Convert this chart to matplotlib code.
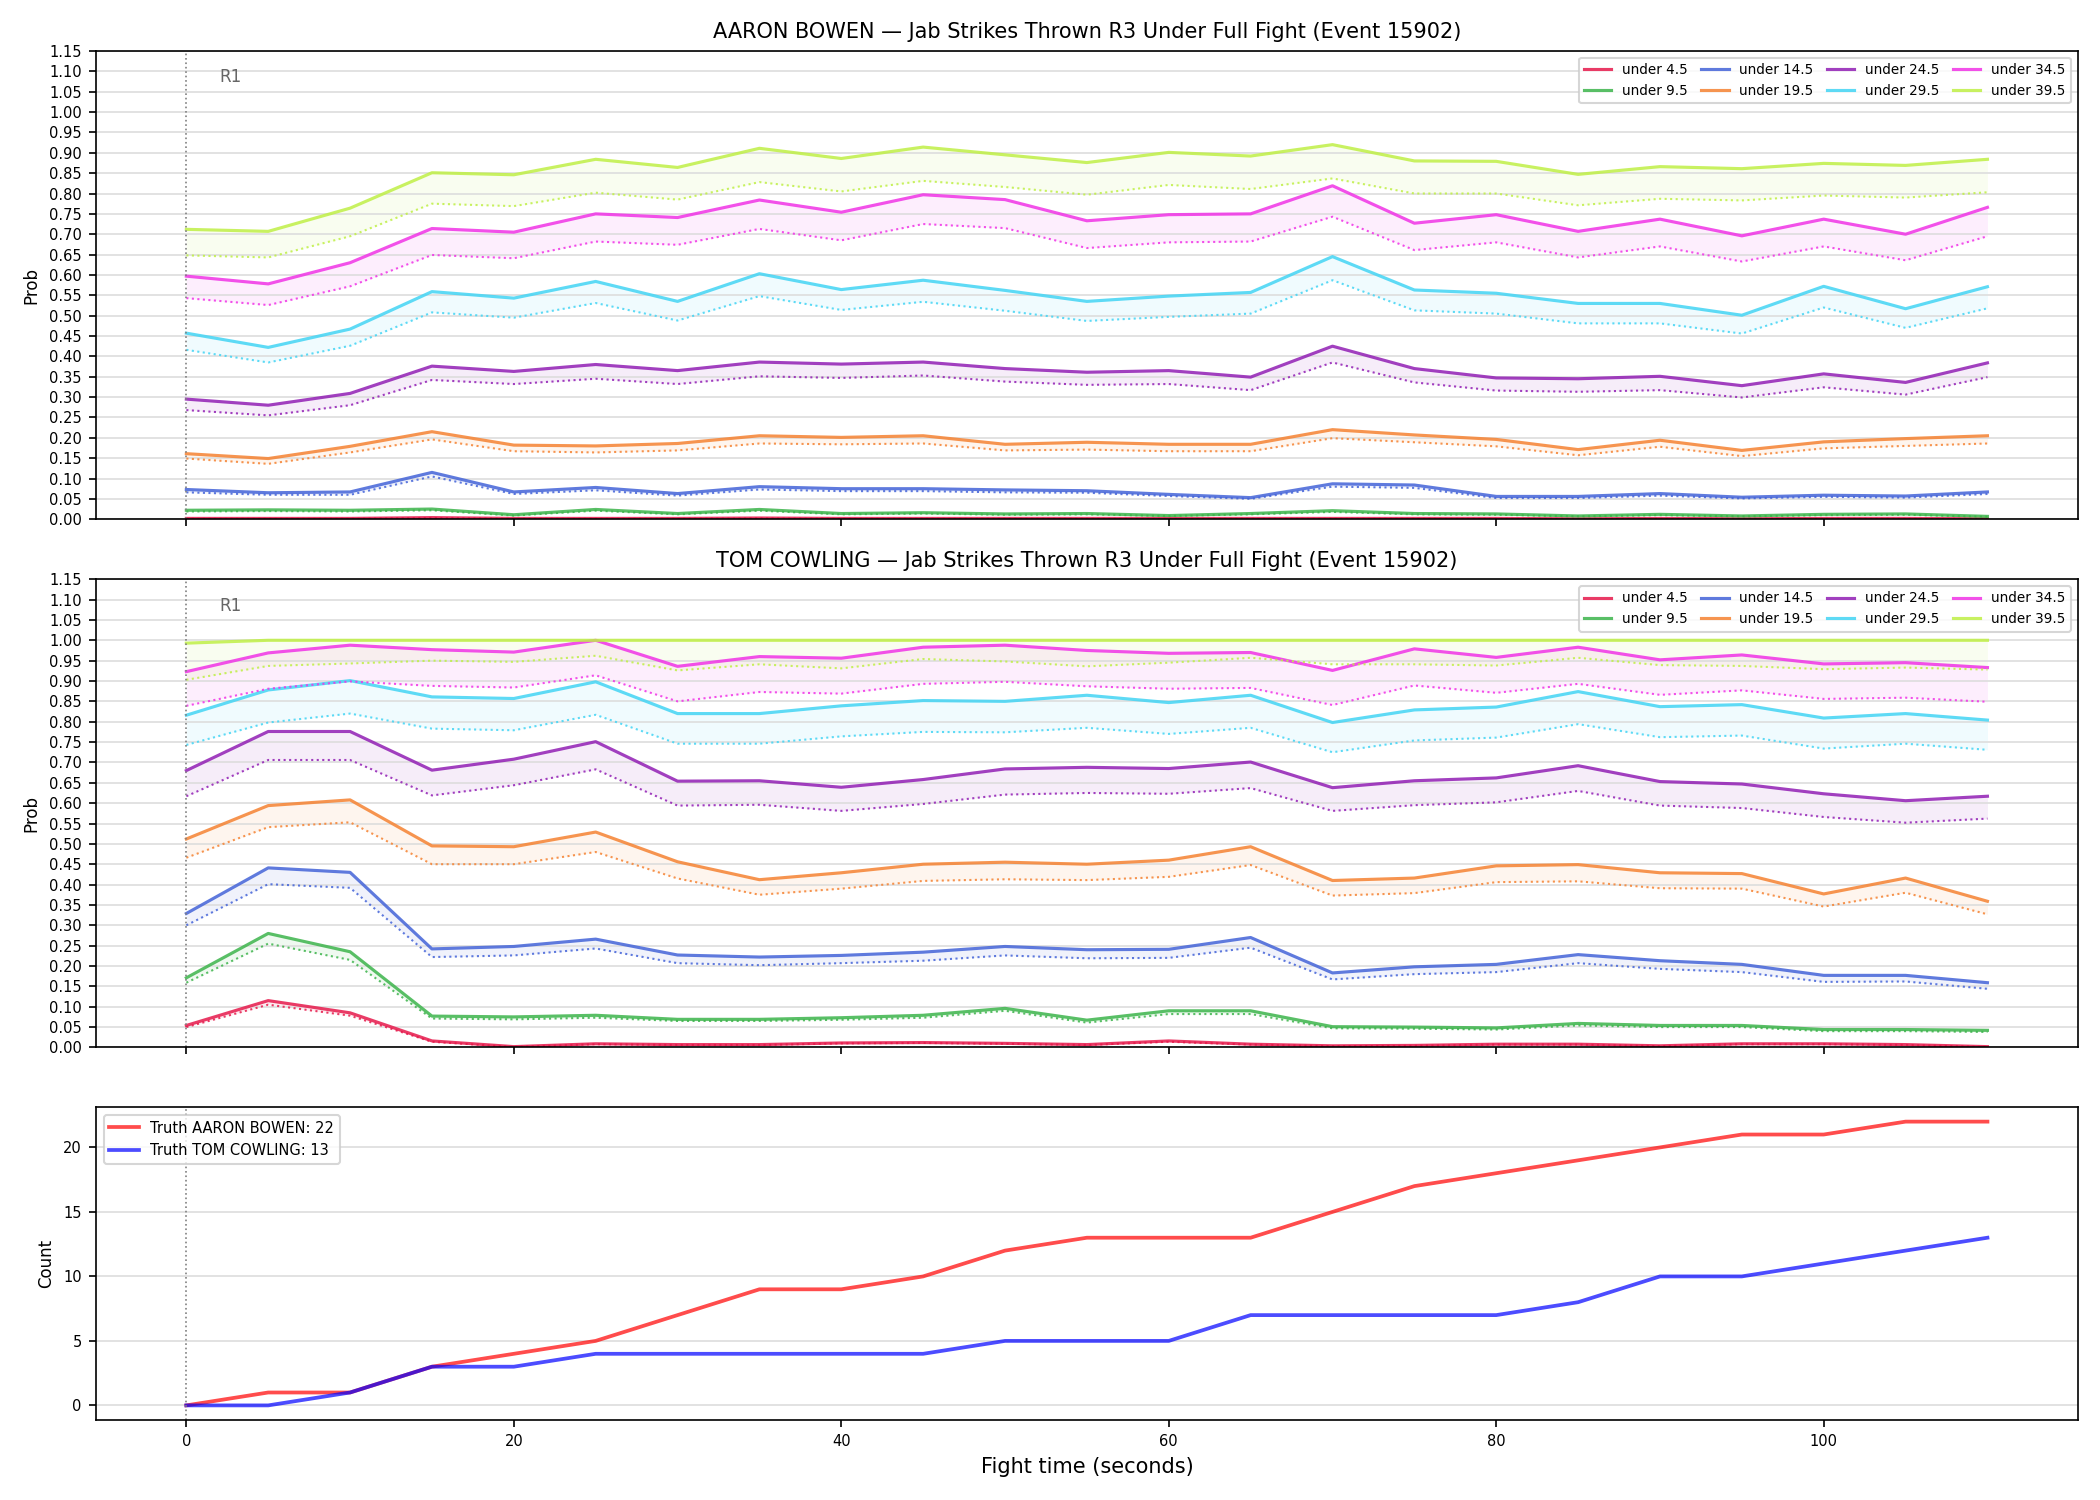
import numpy as np
import matplotlib
matplotlib.use("Agg")
import matplotlib.pyplot as plt

t = np.arange(0, 111, 5)
labels = ["under 4.5", "under 9.5", "under 14.5", "under 19.5",
          "under 24.5", "under 29.5", "under 34.5", "under 39.5"]
colors = ["#e6194b", "#3cb44b", "#4363d8", "#f58231",
          "#911eb4", "#42d4f4", "#f032e6", "#bfef45"]

# AARON BOWEN - solid (upper) and dotted (lower) curves
bowen_hi = [
    [0.002, 0.002, 0.002, 0.004, 0.002, 0.002, 0.002, 0.003, 0.002, 0.002, 0.002, 0.002,
     0.002, 0.002, 0.002, 0.002, 0.002, 0.001, 0.002, 0.001, 0.002, 0.002, 0.001],
    [0.022, 0.023, 0.022, 0.025, 0.011, 0.024, 0.014, 0.024, 0.014, 0.016, 0.013, 0.014,
     0.009, 0.014, 0.021, 0.014, 0.013, 0.008, 0.012, 0.008, 0.012, 0.013, 0.007],
    [0.073, 0.065, 0.067, 0.115, 0.067, 0.078, 0.063, 0.080, 0.075, 0.075, 0.072, 0.070,
     0.061, 0.053, 0.087, 0.084, 0.056, 0.056, 0.063, 0.054, 0.059, 0.057, 0.067],
    [0.161, 0.149, 0.179, 0.215, 0.182, 0.180, 0.186, 0.205, 0.201, 0.205, 0.184, 0.189,
     0.184, 0.184, 0.220, 0.207, 0.196, 0.171, 0.194, 0.169, 0.190, 0.198, 0.205],
    [0.295, 0.280, 0.309, 0.376, 0.363, 0.380, 0.365, 0.386, 0.381, 0.386, 0.370, 0.361,
     0.365, 0.349, 0.425, 0.370, 0.347, 0.345, 0.351, 0.328, 0.357, 0.336, 0.384],
    [0.457, 0.422, 0.467, 0.559, 0.543, 0.584, 0.535, 0.603, 0.564, 0.587, 0.562, 0.535,
     0.548, 0.557, 0.645, 0.563, 0.555, 0.530, 0.530, 0.501, 0.572, 0.517, 0.571],
    [0.597, 0.578, 0.630, 0.714, 0.705, 0.750, 0.741, 0.784, 0.754, 0.797, 0.785, 0.733,
     0.748, 0.750, 0.819, 0.727, 0.748, 0.707, 0.737, 0.696, 0.737, 0.700, 0.766],
    [0.712, 0.707, 0.764, 0.851, 0.846, 0.884, 0.864, 0.911, 0.886, 0.914, 0.895, 0.876,
     0.901, 0.892, 0.920, 0.880, 0.879, 0.847, 0.866, 0.861, 0.874, 0.869, 0.884],
]
bowen_lo = [
    [0.001, 0.001, 0.001, 0.003, 0.001, 0.001, 0.001, 0.002, 0.001, 0.001, 0.001, 0.001,
     0.001, 0.001, 0.001, 0.001, 0.001, 0.001, 0.001, 0.001, 0.001, 0.001, 0.001],
    [0.019, 0.020, 0.019, 0.022, 0.009, 0.021, 0.012, 0.021, 0.012, 0.014, 0.011, 0.012,
     0.008, 0.012, 0.018, 0.012, 0.011, 0.007, 0.010, 0.007, 0.010, 0.011, 0.006],
    [0.066, 0.060, 0.060, 0.105, 0.062, 0.071, 0.058, 0.073, 0.069, 0.069, 0.066, 0.065,
     0.057, 0.050, 0.080, 0.077, 0.052, 0.052, 0.058, 0.051, 0.055, 0.053, 0.062],
    [0.149, 0.136, 0.164, 0.196, 0.167, 0.164, 0.169, 0.186, 0.184, 0.186, 0.169, 0.171,
     0.167, 0.167, 0.199, 0.189, 0.179, 0.157, 0.178, 0.155, 0.174, 0.180, 0.186],
    [0.268, 0.255, 0.280, 0.342, 0.332, 0.345, 0.332, 0.351, 0.347, 0.353, 0.338, 0.330,
     0.332, 0.317, 0.385, 0.336, 0.316, 0.313, 0.317, 0.299, 0.324, 0.306, 0.349],
    [0.416, 0.385, 0.426, 0.508, 0.495, 0.531, 0.488, 0.548, 0.514, 0.534, 0.512, 0.487,
     0.497, 0.505, 0.587, 0.513, 0.505, 0.481, 0.481, 0.456, 0.520, 0.470, 0.518],
    [0.543, 0.526, 0.572, 0.649, 0.641, 0.682, 0.674, 0.713, 0.685, 0.725, 0.715, 0.666,
     0.680, 0.682, 0.743, 0.661, 0.680, 0.643, 0.670, 0.633, 0.670, 0.636, 0.695],
    [0.648, 0.643, 0.695, 0.775, 0.769, 0.802, 0.785, 0.828, 0.805, 0.831, 0.816, 0.797,
     0.821, 0.811, 0.837, 0.800, 0.800, 0.771, 0.787, 0.783, 0.795, 0.790, 0.803],
]

# TOM COWLING
cowling_hi = [
    [0.054, 0.115, 0.085, 0.016, 0.002, 0.009, 0.007, 0.007, 0.011, 0.012, 0.010, 0.007,
     0.016, 0.008, 0.004, 0.005, 0.008, 0.008, 0.004, 0.009, 0.009, 0.007, 0.002],
    [0.171, 0.280, 0.235, 0.077, 0.075, 0.079, 0.069, 0.069, 0.073, 0.079, 0.096, 0.067,
     0.090, 0.090, 0.051, 0.050, 0.048, 0.059, 0.054, 0.054, 0.044, 0.044, 0.042],
    [0.329, 0.441, 0.430, 0.242, 0.248, 0.266, 0.227, 0.222, 0.226, 0.234, 0.248, 0.240,
     0.241, 0.270, 0.183, 0.198, 0.204, 0.228, 0.213, 0.204, 0.177, 0.177, 0.159],
    [0.512, 0.594, 0.608, 0.495, 0.493, 0.529, 0.456, 0.412, 0.429, 0.450, 0.455, 0.450,
     0.460, 0.493, 0.410, 0.416, 0.446, 0.449, 0.429, 0.427, 0.377, 0.416, 0.359],
    [0.680, 0.776, 0.776, 0.681, 0.708, 0.751, 0.654, 0.655, 0.639, 0.658, 0.684, 0.688,
     0.685, 0.701, 0.638, 0.655, 0.662, 0.692, 0.653, 0.647, 0.623, 0.606, 0.617],
    [0.816, 0.878, 0.901, 0.861, 0.857, 0.898, 0.820, 0.820, 0.839, 0.852, 0.850, 0.865,
     0.847, 0.865, 0.798, 0.829, 0.836, 0.874, 0.837, 0.842, 0.809, 0.820, 0.804],
    [0.923, 0.969, 0.988, 0.977, 0.971, 1.000, 0.936, 0.960, 0.956, 0.983, 0.988, 0.975,
     0.968, 0.970, 0.926, 0.979, 0.958, 0.983, 0.952, 0.964, 0.942, 0.945, 0.933],
    [0.993, 1.000, 1.000, 1.000, 1.000, 1.000, 1.000, 1.000, 1.000, 1.000, 1.000, 1.000,
     1.000, 1.000, 1.000, 1.000, 1.000, 1.000, 1.000, 1.000, 1.000, 1.000, 1.000],
]
cowling_lo = [
    [0.050, 0.105, 0.078, 0.014, 0.001, 0.008, 0.006, 0.006, 0.010, 0.011, 0.009, 0.006,
     0.014, 0.007, 0.003, 0.004, 0.007, 0.007, 0.003, 0.008, 0.008, 0.006, 0.001],
    [0.159, 0.255, 0.215, 0.071, 0.069, 0.073, 0.065, 0.065, 0.068, 0.073, 0.090, 0.061,
     0.082, 0.082, 0.047, 0.046, 0.044, 0.054, 0.050, 0.050, 0.040, 0.040, 0.038],
    [0.300, 0.401, 0.392, 0.222, 0.226, 0.243, 0.207, 0.202, 0.207, 0.213, 0.226, 0.219,
     0.220, 0.245, 0.167, 0.180, 0.185, 0.207, 0.193, 0.185, 0.161, 0.162, 0.144],
    [0.466, 0.541, 0.553, 0.450, 0.450, 0.480, 0.415, 0.375, 0.390, 0.409, 0.413, 0.411,
     0.419, 0.448, 0.373, 0.379, 0.406, 0.408, 0.391, 0.390, 0.346, 0.380, 0.327],
    [0.617, 0.706, 0.706, 0.619, 0.644, 0.683, 0.594, 0.596, 0.581, 0.598, 0.621, 0.625,
     0.623, 0.637, 0.581, 0.595, 0.602, 0.630, 0.594, 0.588, 0.566, 0.552, 0.562],
    [0.743, 0.798, 0.820, 0.783, 0.779, 0.817, 0.746, 0.746, 0.764, 0.775, 0.774, 0.785,
     0.770, 0.785, 0.725, 0.754, 0.761, 0.794, 0.762, 0.766, 0.734, 0.746, 0.731],
    [0.839, 0.881, 0.899, 0.888, 0.884, 0.914, 0.850, 0.873, 0.869, 0.893, 0.898, 0.887,
     0.881, 0.883, 0.841, 0.889, 0.871, 0.893, 0.866, 0.877, 0.856, 0.859, 0.849],
    [0.903, 0.937, 0.943, 0.950, 0.947, 0.962, 0.926, 0.941, 0.931, 0.954, 0.948, 0.936,
     0.945, 0.957, 0.941, 0.941, 0.938, 0.957, 0.939, 0.937, 0.929, 0.933, 0.928],
]

truth_bowen = [0, 1, 1, 3, 4, 5, 7, 9, 9, 10, 12, 13, 13, 13, 15, 17, 18, 19, 20, 21, 21, 22, 22]
truth_cowling = [0, 0, 1, 3, 3, 4, 4, 4, 4, 4, 5, 5, 5, 7, 7, 7, 7, 8, 10, 10, 11, 12, 13]

fig, axes = plt.subplots(3, 1, figsize=(14, 10), dpi=150, sharex=True,
                         gridspec_kw={"height_ratios": [3, 3, 2]})


def prob_panel(ax, hi, lo, title):
    for i in range(len(labels)):
        ax.plot(t, hi[i], color=colors[i], lw=1.5, alpha=0.85, label=labels[i])
        ax.plot(t, lo[i], color=colors[i], lw=1.0, ls=":", alpha=0.85)
        ax.fill_between(t, lo[i], hi[i], color=colors[i], alpha=0.08, lw=0)
    ax.axvline(0, color="gray", ls=":", lw=0.8)
    ax.text(2, 1.085, "R1", color="#666666", fontsize=8, va="center")
    ax.set_ylim(0, 1.15)
    ax.set_yticks(np.arange(0, 1.151, 0.05))
    ax.tick_params(labelsize=7)
    ax.set_ylabel("Prob", fontsize=8)
    ax.set_title(title, fontsize=10)
    ax.grid(axis="y", color="#dddddd", lw=0.8)
    ax.legend(loc="upper right", ncol=4, fontsize=6.5, columnspacing=1.0)


prob_panel(axes[0], bowen_hi, bowen_lo,
           "AARON BOWEN \u2014 Jab Strikes Thrown R3 Under Full Fight (Event 15902)")
prob_panel(axes[1], cowling_hi, cowling_lo,
           "TOM COWLING \u2014 Jab Strikes Thrown R3 Under Full Fight (Event 15902)")

ax = axes[2]
ax.plot(t, truth_bowen, color="red", alpha=0.7, lw=1.8, label="Truth AARON BOWEN: 22")
ax.plot(t, truth_cowling, color="blue", alpha=0.7, lw=1.8, label="Truth TOM COWLING: 13")
ax.axvline(0, color="gray", ls=":", lw=0.8)
ax.set_ylabel("Count", fontsize=8)
ax.set_xlabel("Fight time (seconds)", fontsize=10)
ax.tick_params(labelsize=7)
ax.grid(axis="y", color="#dddddd", lw=0.8)
ax.legend(loc="upper left", fontsize=7)

plt.tight_layout()
plt.savefig("out.png")
